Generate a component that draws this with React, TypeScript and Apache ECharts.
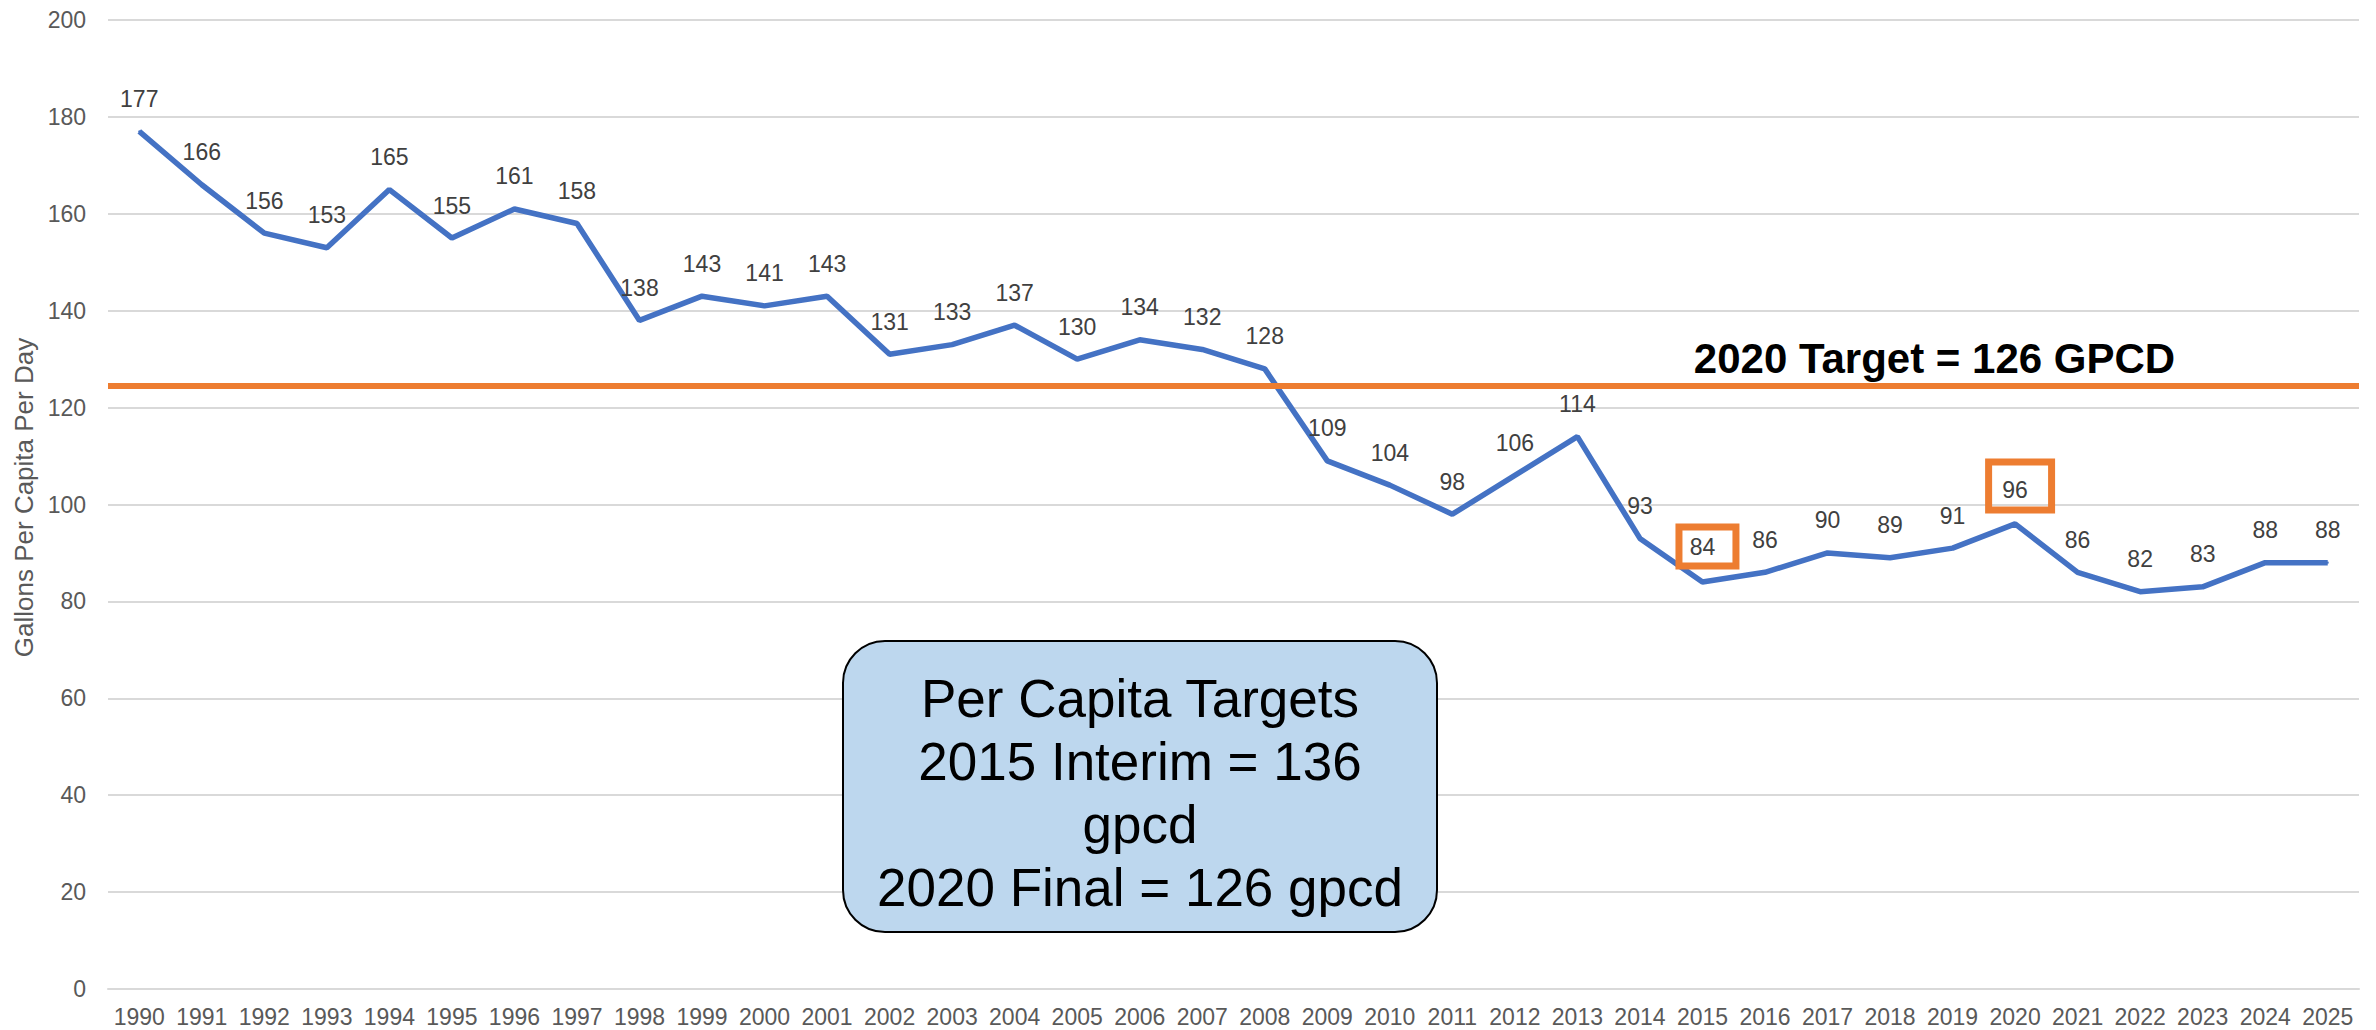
import React, { useEffect, useRef } from 'react';
import * as echarts from 'echarts';

const years = [
  '1990', '1991', '1992', '1993', '1994', '1995', '1996', '1997', '1998', '1999',
  '2000', '2001', '2002', '2003', '2004', '2005', '2006', '2007', '2008', '2009',
  '2010', '2011', '2012', '2013', '2014', '2015', '2016', '2017', '2018', '2019',
  '2020', '2021', '2022', '2023', '2024', '2025',
];
const gpcd = [
  177, 166, 156, 153, 165, 155, 161, 158, 138, 143,
  141, 143, 131, 133, 137, 130, 134, 132, 128, 109,
  104, 98, 106, 114, 93, 84, 86, 90, 89, 91,
  96, 86, 82, 83, 88, 88,
];
const targetLineValue = [124.6];
const targetText = '2020 Target = 126 GPCD';
const boxLines = ['Per Capita Targets', '2015 Interim = 136', 'gpcd', '2020 Final = 126 gpcd'];
const yTicks = { min: 0, max: 200, interval: 20 };
const yTitle = 'Gallons Per Capita Per Day';

const FONT = '"Liberation Sans", Arial, Helvetica, sans-serif';
const ORANGE = '#ED7D31';
const BLUE = '#4472C4';

const highlightStyles: Record<string, any> = {
  '2015': { padding: [8, 20.7, 8, 10.7], position: [6, -15] },
  '2020': { padding: [16.5, 23.7, 8.5, 13.7], position: [6, -13] },
};

export default function App() {
  const ref = useRef<HTMLDivElement>(null);
  useEffect(() => {
    if (!ref.current) return;
    const chart = echarts.init(ref.current, null, { renderer: 'svg' });
    const seriesData = gpcd.map((v, i) => {
      const h = highlightStyles[years[i]];
      if (!h) return v;
      return {
        value: v,
        label: {
          borderColor: ORANGE,
          borderWidth: 7,
          padding: h.padding,
          position: h.position,
          align: 'center',
          verticalAlign: 'bottom',
        },
      };
    });
    chart.setOption({
      animation: false,
      backgroundColor: '#ffffff',
      textStyle: { fontFamily: FONT },
      grid: { left: 108, right: 17, top: 20, bottom: 41, containLabel: false },
      xAxis: {
        type: 'category',
        data: years,
        boundaryGap: true,
        axisLine: { show: true, lineStyle: { color: '#D9D9D9', width: 2 } },
        axisTick: { show: false },
        axisLabel: { color: '#595959', fontSize: 23, fontFamily: FONT, margin: 16, interval: 0 },
      },
      yAxis: {
        type: 'value',
        min: yTicks.min,
        max: yTicks.max,
        interval: yTicks.interval,
        name: yTitle,
        nameLocation: 'middle',
        nameGap: 69,
        nameTextStyle: { color: '#595959', fontSize: 26, fontFamily: FONT, padding: [0, 0, 0, 14] },
        axisLine: { show: false },
        axisTick: { show: false },
        axisLabel: { color: '#595959', fontSize: 23, fontFamily: FONT, margin: 22 },
        splitLine: { show: true, lineStyle: { color: '#D9D9D9', width: 2 } },
      },
      series: [
        {
          type: 'line',
          data: seriesData,
          symbol: 'circle',
          symbolSize: 2,
          showSymbol: true,
          showAllSymbol: true,
          lineStyle: { color: BLUE, width: 5.5 },
          itemStyle: { color: BLUE },
          label: {
            show: true,
            position: 'top',
            distance: 20,
            color: '#404040',
            fontSize: 23,
            fontFamily: FONT,
          },
          labelLayout: { hideOverlap: false },
          markLine: {
            silent: true,
            symbol: ['none', 'none'],
            label: { show: false },
            lineStyle: { color: ORANGE, width: 6, type: 'solid' },
            data: targetLineValue.map((v) => ({ yAxis: v })),
          },
          z: 3,
        },
      ],
      graphic: [
        {
          type: 'text',
          x: 1934.5,
          y: 358,
          z: 10,
          style: {
            text: targetText,
            fontSize: 42,
            fontWeight: 'bold',
            fontFamily: FONT,
            fill: '#000000',
            align: 'center',
            verticalAlign: 'middle',
          },
        },
        {
          type: 'rect',
          z: 10,
          shape: { x: 843, y: 641, width: 594, height: 291, r: 42 },
          style: { fill: '#BDD7EE', stroke: '#000000', lineWidth: 2 },
        },
        {
          type: 'text',
          x: 1140,
          y: 793,
          z: 11,
          style: {
            text: boxLines.join('\n'),
            fontSize: 53,
            fontFamily: FONT,
            fill: '#000000',
            align: 'center',
            verticalAlign: 'middle',
            lineHeight: 63,
          },
        },
      ],
    });
    return () => chart.dispose();
  }, []);
  return (
    <div
      ref={ref}
      style={{ position: 'fixed', left: 0, top: 0, width: 2376, height: 1030, background: '#fff' }}
    />
  );
}
